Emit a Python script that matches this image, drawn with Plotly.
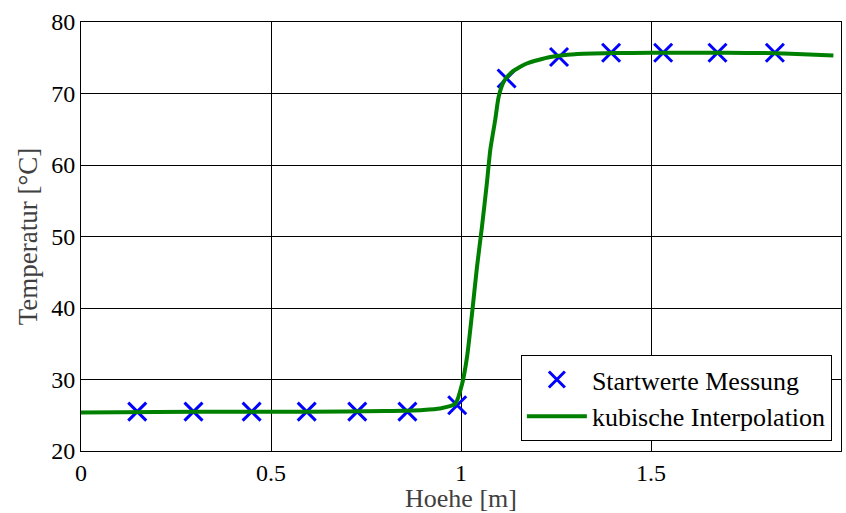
import plotly.graph_objects as go

# Measured start values
hoehe_mess = [0.148, 0.296, 0.449, 0.594, 0.727, 0.859, 0.99, 1.12, 1.258, 1.395, 1.532, 1.675, 1.826]
temp_mess = [25.5, 25.5, 25.5, 25.5, 25.5, 25.5, 26.4, 72.1, 75.1, 75.7, 75.7, 75.7, 75.7]

# Cubic interpolation curve
hoehe_int = [0.0, 0.2, 0.4, 0.6, 0.8, 0.9, 0.945, 0.985, 1.003, 1.016, 1.029, 1.042, 1.055,
             1.068, 1.077, 1.090, 1.099, 1.112, 1.134, 1.173, 1.235, 1.3, 1.4, 1.5, 1.6,
             1.7, 1.8, 1.9, 1.98]
temp_int = [25.4, 25.45, 25.5, 25.5, 25.6, 25.75, 25.95, 26.6, 29.4, 33.2, 39.2, 45.7, 51.3,
            57.4, 62.1, 66.3, 69.5, 71.6, 73.0, 74.2, 75.1, 75.5, 75.65, 75.7, 75.7,
            75.7, 75.65, 75.5, 75.3]

x_ticks = [0, 0.5, 1, 1.5, 2]
x_ticklabels = ["0", "0.5", "1", "1.5", "2"]
y_ticks = [20, 30, 40, 50, 60, 70, 80]

font = "Liberation Serif"

fig = go.Figure()
fig.add_trace(go.Scatter(
    x=hoehe_mess, y=temp_mess, mode="markers", name="Startwerte Messung",
    marker=dict(symbol="x-thin", size=18, line=dict(color="#0000ff", width=3), color="#0000ff"),
))
fig.add_trace(go.Scatter(
    x=hoehe_int, y=temp_int, mode="lines", name="kubische Interpolation",
    line=dict(color="#008000", width=4, shape="spline", smoothing=0.6),
))

axis_common = dict(
    showgrid=True, gridcolor="#000000", gridwidth=1,
    showline=True, linecolor="#000000", linewidth=1, mirror="ticks",
    ticks="inside", ticklen=5, tickcolor="#000000",
    zeroline=False,
    tickfont=dict(family=font, size=24, color="#000000"),
)

fig.update_layout(
    width=846, height=513,
    margin=dict(l=81, r=5, t=22, b=62),
    paper_bgcolor="white", plot_bgcolor="white",
    font=dict(family=font, color="#000000"),
    xaxis=dict(range=[0, 2], tickvals=x_ticks, ticktext=x_ticklabels,
               title=dict(text="Hoehe [m]", font=dict(family=font, size=26, color="#404040"), standoff=0),
               **axis_common),
    yaxis=dict(range=[20, 80], tickvals=y_ticks,
               title=dict(text="Temperatur [°C]", font=dict(family=font, size=27, color="#404040"), standoff=5),
               **axis_common),
    legend=dict(x=0.988, y=0.023, xanchor="right", yanchor="bottom",
                bgcolor="white", bordercolor="#000000", borderwidth=1,
                font=dict(family=font, size=26, color="#000000"),
                tracegroupgap=0, itemwidth=60),
    showlegend=True,
)

fig.write_html("out.html")
